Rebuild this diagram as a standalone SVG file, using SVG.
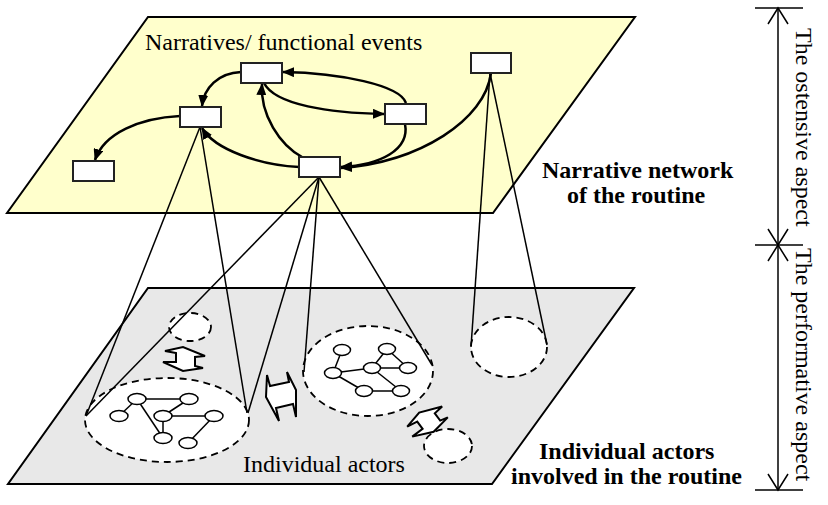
<svg xmlns="http://www.w3.org/2000/svg" width="828" height="505" viewBox="0 0 828 505">
<style>
.plane{stroke:#000;stroke-width:2}
.box{fill:#fff;stroke:#222;stroke-width:2}
.arc{fill:none;stroke:#000;stroke-width:2.5}
.link{stroke:#000;stroke-width:1.5;fill:none}
.grp{fill:#fff;stroke:#000;stroke-width:1.8;stroke-dasharray:7 5}
.nd{fill:#fff;stroke:#000;stroke-width:1.5}
.ed{stroke:#000;stroke-width:1.5}
.blk{fill:#fff;stroke:#000;stroke-width:2;stroke-linejoin:miter}
.t{font-family:"Liberation Serif","Times New Roman",serif;font-size:24px;fill:#000}
.b{font-weight:bold}
.dim{stroke:#000;stroke-width:1.5;fill:none}
</style>
<defs>
<marker id="ah" markerUnits="userSpaceOnUse" markerWidth="12" markerHeight="10" refX="11" refY="5" orient="auto">
<path d="M0,0 L12,5 L0,10 z" fill="#000"/>
</marker>
<polygon id="dblarrow" points="176,353 165,351 183,347 205,356 195,357 195,366 203,368 183,371 163,362 176,362"/>
</defs>

<g id="plane-top"><polygon class="plane" points="148,17 635,17 493,213 7,213" fill="#FFFFCC"/></g>
<g id="plane-bottom"><polygon class="plane" points="148,288 634,288 492,484 8,484" fill="#E8E8E8"/></g>

<g id="group-small-1"><ellipse class="grp" cx="190" cy="327" rx="21" ry="14"/></g>
<g id="group-big">
<ellipse class="grp" cx="167" cy="420" rx="82" ry="42"/>
<g>
<line class="ed" x1="137" y1="399" x2="189" y2="399"/>
<line class="ed" x1="137" y1="399" x2="119" y2="416"/>
<line class="ed" x1="137" y1="399" x2="163" y2="438"/>
<line class="ed" x1="189" y1="399" x2="163" y2="416"/>
<line class="ed" x1="163" y1="416" x2="214" y2="416"/>
<line class="ed" x1="163" y1="416" x2="163" y2="438"/>
<line class="ed" x1="214" y1="416" x2="188" y2="443"/>
<ellipse class="nd" cx="137" cy="399" rx="9" ry="5.5"/>
<ellipse class="nd" cx="189" cy="399" rx="9" ry="5.5"/>
<ellipse class="nd" cx="119" cy="416" rx="9" ry="5.5"/>
<ellipse class="nd" cx="163" cy="416" rx="9" ry="5.5"/>
<ellipse class="nd" cx="214" cy="416" rx="9" ry="5.5"/>
<ellipse class="nd" cx="163" cy="438" rx="9" ry="5.5"/>
<ellipse class="nd" cx="188" cy="443" rx="9" ry="5.5"/>
</g>
</g>
<g id="group-middle">
<ellipse class="grp" cx="368" cy="371" rx="65" ry="45"/>
<g>
<line class="ed" x1="342" y1="350" x2="333" y2="373"/>
<line class="ed" x1="333" y1="373" x2="372" y2="368"/>
<line class="ed" x1="372" y1="368" x2="387" y2="349"/>
<line class="ed" x1="387" y1="349" x2="408" y2="368"/>
<line class="ed" x1="372" y1="368" x2="408" y2="368"/>
<line class="ed" x1="333" y1="373" x2="364" y2="391"/>
<line class="ed" x1="364" y1="391" x2="401" y2="391"/>
<line class="ed" x1="372" y1="368" x2="401" y2="391"/>
<ellipse class="nd" cx="342" cy="350" rx="8.5" ry="5.5"/>
<ellipse class="nd" cx="387" cy="349" rx="8.5" ry="5.5"/>
<ellipse class="nd" cx="333" cy="373" rx="8.5" ry="5.5"/>
<ellipse class="nd" cx="372" cy="368" rx="8.5" ry="5.5"/>
<ellipse class="nd" cx="408" cy="368" rx="8.5" ry="5.5"/>
<ellipse class="nd" cx="364" cy="391" rx="8.5" ry="5.5"/>
<ellipse class="nd" cx="401" cy="391" rx="8.5" ry="5.5"/>
</g>
</g>
<g id="group-right"><ellipse class="grp" cx="509" cy="347" rx="38" ry="30"/></g>
<g id="group-small-2"><ellipse class="grp" cx="448" cy="446" rx="24" ry="17"/></g>

<g id="exchange-arrows">
<use href="#dblarrow" class="blk"/>
<polygon class="blk" points="270,386 267,375 266,397 279,421 276,408 293,404 296,417 296,390 287,372 289,382"/>
<use href="#dblarrow" class="blk" transform="translate(428,421) rotate(-37) translate(-185,-359)"/>
</g>

<g id="connectors">
<line class="link" x1="200" y1="127" x2="86" y2="416"/>
<line class="link" x1="200" y1="127" x2="247" y2="413"/>
<line class="link" x1="319" y1="177" x2="86" y2="416"/>
<line class="link" x1="319" y1="177" x2="248" y2="413"/>
<line class="link" x1="319" y1="177" x2="304" y2="372"/>
<line class="link" x1="319" y1="177" x2="432" y2="365"/>
<line class="link" x1="490" y1="73" x2="471" y2="347"/>
<line class="link" x1="490" y1="73" x2="547" y2="345"/>
<path class="arc" marker-end="url(#ah)" d="M241,72 C218,73 204,88 202,106"/>
<path class="arc" marker-end="url(#ah)" d="M180,116 C140,118 104,133 95,160"/>
<path class="arc" marker-end="url(#ah)" d="M406,103 C400,85 340,73 283,72"/>
<path class="arc" marker-end="url(#ah)" d="M264,83 C275,105 330,113 384,114"/>
<path class="arc" marker-end="url(#ah)" d="M405,124 C410,150 380,165 341,167"/>
<path class="arc" marker-end="url(#ah)" d="M491,73 C485,120 420,162 341,168"/>
<path class="arc" marker-end="url(#ah)" d="M299,167 C260,165 215,150 202,128"/>
<path class="arc" marker-end="url(#ah)" d="M302,157 C280,145 260,115 262,84"/>
</g>

<g id="event-1"><rect class="box" x="241" y="63" width="41" height="20"/></g>
<g id="event-2"><rect class="box" x="180" y="107" width="41" height="20"/></g>
<g id="event-3"><rect class="box" x="73" y="161" width="41" height="20"/></g>
<g id="event-4"><rect class="box" x="385" y="104" width="41" height="20"/></g>
<g id="event-5"><rect class="box" x="299" y="157" width="41" height="20"/></g>
<g id="event-6"><rect class="box" x="471" y="53" width="40" height="20"/></g>

<g id="labels">
<text class="t" x="145" y="50">Narratives/ functional events</text>
<text class="t b" x="542" y="178">Narrative network</text>
<text class="t b" x="567" y="203">of the routine</text>
<text class="t" x="243" y="472">Individual actors</text>
<text class="t b" x="539" y="459">Individual actors</text>
<text class="t b" x="511" y="484">involved in the routine</text>
</g>

<g id="aspects">
<line class="dim" x1="778" y1="8" x2="778" y2="490"/>
<line class="dim" x1="755" y1="8" x2="803" y2="8"/>
<line class="dim" x1="755" y1="245" x2="803" y2="245"/>
<line class="dim" x1="755" y1="490" x2="803" y2="490"/>
<path class="dim" d="M768,24 L778,8 L788,24"/>
<path class="dim" d="M768,229 L778,245 L788,229"/>
<path class="dim" d="M768,261 L778,245 L788,261"/>
<path class="dim" d="M768,474 L778,490 L788,474"/>
<text class="t" transform="translate(796,28) rotate(90)">The ostensive aspect</text>
<text class="t" transform="translate(796,248) rotate(90)">The performative aspect</text>
</g>
</svg>
